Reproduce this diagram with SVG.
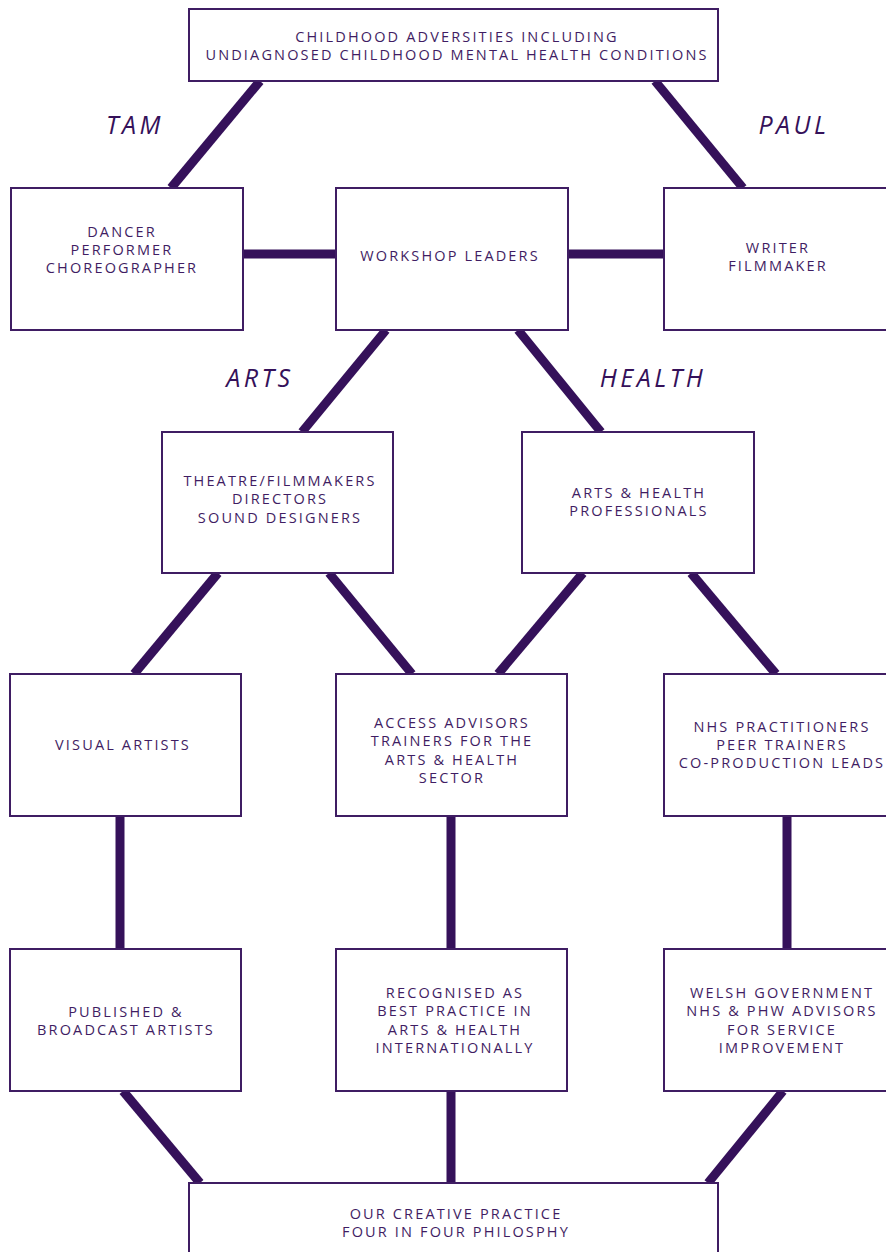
<svg xmlns="http://www.w3.org/2000/svg" width="886" height="1252" viewBox="0 0 886 1252">
<style>
.box{fill:#fff;stroke:#3f1d63;stroke-width:2}
.t{font-family:"Open Sans","Noto Sans",sans-serif;font-size:14.5px;letter-spacing:2.15px;fill:#3f1d63;text-anchor:middle}
.lbl{font-family:"Open Sans","Noto Sans",sans-serif;font-size:25px;font-style:italic;letter-spacing:3.5px;fill:#35115a;text-anchor:middle}
.c{stroke:#35115a;stroke-width:9;fill:none}
</style>
<rect width="886" height="1252" fill="#fff"/>
<g id="connectors">
<line class="c" x1="260" y1="81" x2="171" y2="188"/>
<line class="c" x1="655" y1="81" x2="743" y2="188"/>
<line class="c" x1="243" y1="254" x2="336" y2="254"/>
<line class="c" x1="568" y1="254" x2="664" y2="254"/>
<line class="c" x1="386" y1="330" x2="302" y2="432"/>
<line class="c" x1="518" y1="330" x2="601" y2="432"/>
<line class="c" x1="218" y1="573" x2="134" y2="674"/>
<line class="c" x1="329" y1="573" x2="412" y2="674"/>
<line class="c" x1="583" y1="573" x2="498" y2="674"/>
<line class="c" x1="691" y1="573" x2="776" y2="674"/>
<line class="c" x1="120" y1="816" x2="120" y2="949"/>
<line class="c" x1="451" y1="816" x2="451" y2="949"/>
<line class="c" x1="787" y1="816" x2="787" y2="949"/>
<line class="c" x1="123" y1="1091" x2="200" y2="1183"/>
<line class="c" x1="451" y1="1091" x2="451" y2="1183"/>
<line class="c" x1="783" y1="1091" x2="708" y2="1183"/>
</g>
<g id="labels">
<text class="lbl" x="135" y="134">TAM</text>
<text class="lbl" x="794" y="134">PAUL</text>
<text class="lbl" x="260" y="387">ARTS</text>
<text class="lbl" x="653" y="387">HEALTH</text>
</g>
<g id="n-top"><rect class="box" x="189" y="9" width="529" height="72"/>
<text class="t" x="457" y="42">CHILDHOOD ADVERSITIES INCLUDING</text>
<text class="t" x="457" y="60">UNDIAGNOSED CHILDHOOD MENTAL HEALTH CONDITIONS</text></g>
<g id="n-dancer"><rect class="box" x="11" y="188" width="232" height="142"/>
<text class="t" x="122" y="237">DANCER</text><text class="t" x="122" y="255">PERFORMER</text><text class="t" x="122" y="273">CHOREOGRAPHER</text></g>
<g id="n-workshop"><rect class="box" x="336" y="188" width="232" height="142"/>
<text class="t" x="450" y="261">WORKSHOP LEADERS</text></g>
<g id="n-writer"><rect class="box" x="664" y="188" width="234" height="142"/>
<text class="t" x="778" y="253">WRITER</text><text class="t" x="778" y="271">FILMMAKER</text></g>
<g id="n-theatre"><rect class="box" x="162" y="432" width="231" height="141"/>
<text class="t" x="280" y="486">THEATRE/FILMMAKERS</text><text class="t" x="280" y="504">DIRECTORS</text><text class="t" x="280" y="523">SOUND DESIGNERS</text></g>
<g id="n-artshealth"><rect class="box" x="522" y="432" width="232" height="141"/>
<text class="t" x="639" y="498">ARTS &amp; HEALTH</text><text class="t" x="639" y="516">PROFESSIONALS</text></g>
<g id="n-visual"><rect class="box" x="10" y="674" width="231" height="142"/>
<text class="t" x="123" y="750">VISUAL ARTISTS</text></g>
<g id="n-access"><rect class="box" x="336" y="674" width="231" height="142"/>
<text class="t" x="452" y="728">ACCESS ADVISORS</text><text class="t" x="452" y="746">TRAINERS FOR THE</text><text class="t" x="452" y="765">ARTS &amp; HEALTH</text><text class="t" x="452" y="783">SECTOR</text></g>
<g id="n-nhs"><rect class="box" x="664" y="674" width="234" height="142"/>
<text class="t" x="782" y="732">NHS PRACTITIONERS</text><text class="t" x="782" y="750">PEER TRAINERS</text><text class="t" x="782" y="768">CO-PRODUCTION LEADS</text></g>
<g id="n-published"><rect class="box" x="10" y="949" width="231" height="142"/>
<text class="t" x="126" y="1017">PUBLISHED &amp;</text><text class="t" x="126" y="1035">BROADCAST ARTISTS</text></g>
<g id="n-recognised"><rect class="box" x="336" y="949" width="231" height="142"/>
<text class="t" x="455" y="998">RECOGNISED AS</text><text class="t" x="455" y="1016">BEST PRACTICE IN</text><text class="t" x="455" y="1035">ARTS &amp; HEALTH</text><text class="t" x="455" y="1053">INTERNATIONALLY</text></g>
<g id="n-welsh"><rect class="box" x="664" y="949" width="234" height="142"/>
<text class="t" x="782" y="998">WELSH GOVERNMENT</text><text class="t" x="782" y="1016">NHS &amp; PHW ADVISORS</text><text class="t" x="782" y="1035">FOR SERVICE</text><text class="t" x="782" y="1053">IMPROVEMENT</text></g>
<g id="n-bottom"><rect class="box" x="189" y="1183" width="529" height="80"/>
<text class="t" x="456" y="1219">OUR CREATIVE PRACTICE</text><text class="t" x="456" y="1237">FOUR IN FOUR PHILOSPHY</text></g>
</svg>
